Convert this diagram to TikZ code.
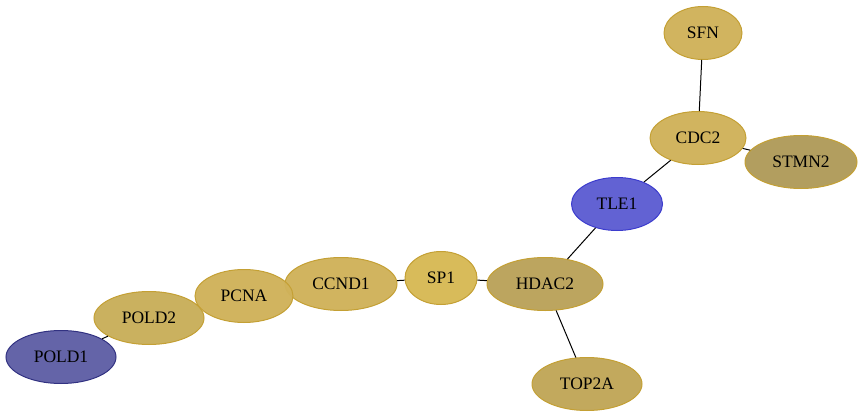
\documentclass[tikz,border=0pt]{standalone}
\usepackage{fontspec}
\setmainfont{Liberation Serif}
\usetikzlibrary{shapes.geometric}

\definecolor{goldA}{RGB}{208,178,90}
\definecolor{goldB}{RGB}{215,185,85}
\definecolor{oliveA}{RGB}{186,162,90}
\definecolor{oliveB}{RGB}{192,166,88}
\definecolor{oliveC}{RGB}{200,174,90}
\definecolor{oliveD}{RGB}{175,155,90}
\definecolor{blueA}{RGB}{93,93,210}
\definecolor{blueB}{RGB}{95,95,165}
\definecolor{rimgold}{RGB}{196,160,52}
\definecolor{rimblue}{RGB}{60,60,205}
\definecolor{rimnavy}{RGB}{50,50,130}

\tikzset{
  gene/.style={ellipse, draw=rimgold, line width=1pt, fill opacity=0.97,
    inner sep=0pt, font=\fontsize{17.5}{20}\selectfont, text opacity=1},
  link/.style={black, line width=1pt}
}

\begin{document}
\begin{tikzpicture}[x=1pt,y=-1pt]

\useasboundingbox (0,0) rectangle (864,417); % Canvas

\node[gene, fill=goldA, minimum width=78, minimum height=53] (sfn) at (703,33) {SFN};
\node[gene, fill=goldA, minimum width=96, minimum height=53] (cdc) at (698,138) {CDC2};
\node[gene, fill=oliveD, minimum width=112, minimum height=53] (stmn) at (801,162) {STMN2};
\node[gene, fill=blueA, draw=rimblue, minimum width=91, minimum height=53] (tle) at (617,204) {TLE1};
\node[gene, fill=oliveA, minimum width=116, minimum height=53] (hdac) at (545,284) {HDAC2};
\node[gene, fill=oliveB, minimum width=110, minimum height=53] (top) at (587,384) {TOP2A};
\node[gene, fill=goldB, minimum width=72, minimum height=53] (sp) at (441,278) {SP1};
\node[gene, fill=goldA, minimum width=112, minimum height=53] (ccnd) at (341,284) {CCND1};
\node[gene, fill=goldA, minimum width=98, minimum height=53] (pcna) at (244,296) {PCNA};
\node[gene, fill=oliveC, minimum width=110, minimum height=53] (pold2) at (149,318) {POLD2};
\node[gene, fill=blueB, draw=rimnavy, minimum width=110, minimum height=53] (pold1) at (61,357) {POLD1};

\draw[link] (sfn) -- (cdc);
\draw[link] (cdc) -- (stmn);
\draw[link] (cdc) -- (tle);
\draw[link] (tle) -- (hdac);
\draw[link] (hdac) -- (top);
\draw[link] (hdac) -- (sp);
\draw[link] (sp) -- (ccnd);
\draw[link] (pold2) -- (pold1);

\end{tikzpicture}
\end{document}
